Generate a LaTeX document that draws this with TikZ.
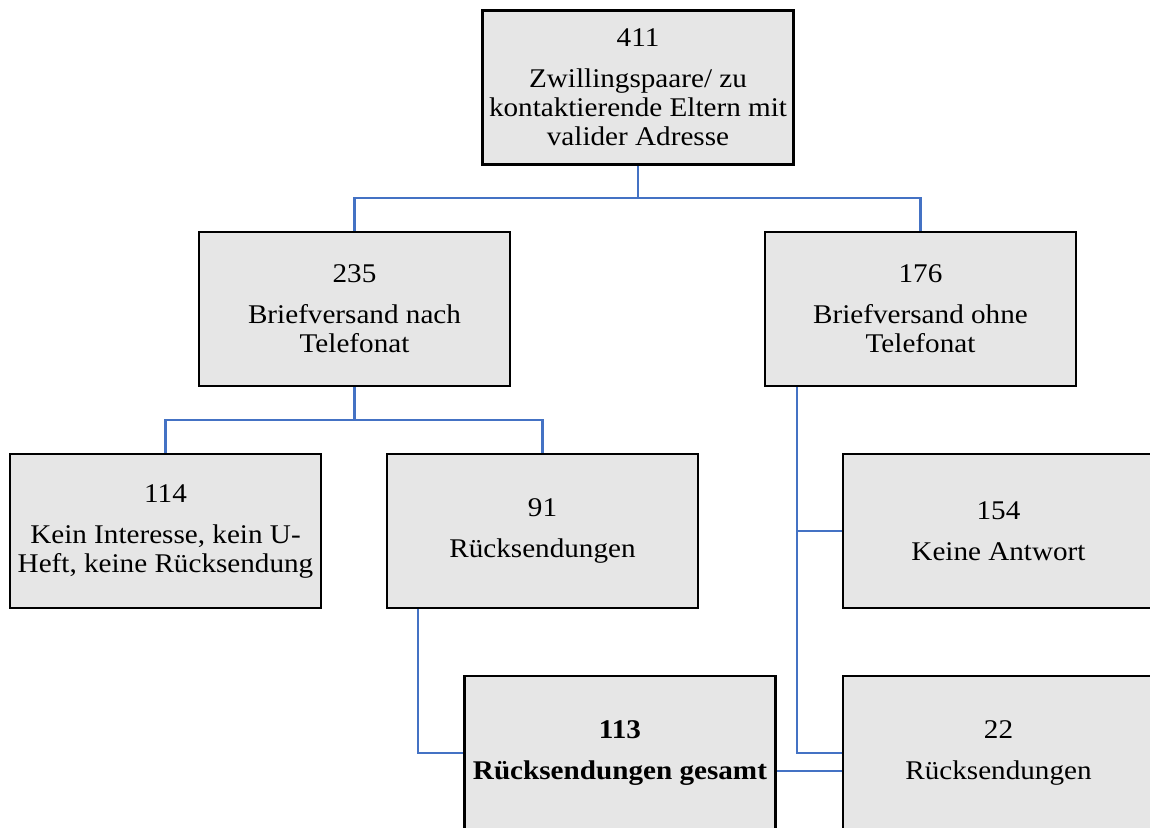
\documentclass[tikz,border=0pt]{standalone}
\usepackage{fontspec}
\setmainfont{Liberation Serif}[FakeStretch=1.08]
\definecolor{boxfill}{RGB}{230,230,230}
\definecolor{conncol}{RGB}{68,114,196}
\tikzset{
  box/.style={draw=black, line width=2.6pt, fill=boxfill, inner sep=0pt,
    minimum width=311pt, minimum height=154pt, align=center,
    font=\fontsize{27}{29}\selectfont},
  conn/.style={draw=conncol, line width=2.4pt}
}
\begin{document}
\begin{tikzpicture}[x=1pt,y=-1pt]
\useasboundingbox (0,0) rectangle (1150,827);
\clip (0,0) rectangle (1150,827);
\fill[white] (0,0) rectangle (1150,827);
% connectors
\coordinate (busA) at (0,198);
\coordinate (busB) at (0,420);
\coordinate (cv) at (797,0);
\coordinate (ev) at (418,0);
\coordinate (gh) at (0,771);
\node[box] (A) at (638,87.5) {411\\[12pt]Zwillingspaare/ zu\\kontaktierende Eltern mit\\valider Adresse};
\node[box] (B) at (354.5,309) {235\\[12pt]Briefversand nach\\Telefonat};
\node[box] (C) at (920.5,309) {176\\[12pt]Briefversand ohne\\Telefonat};
\node[box] (D) at (165.5,531) {114\\[12pt]Kein Interesse, kein U-\\Heft, keine Rücksendung};
\node[box] (E) at (542.5,531) {91\\[12pt]Rücksendungen};
\node[box] (F) at (998.5,531) {154\\[12pt]Keine Antwort};
\node[box] (G) at (620,753) {\bfseries 113\\[12pt]\bfseries Rücksendungen gesamt};
\node[box] (H) at (998.5,753) {22\\[12pt]Rücksendungen};
\draw[conn] (A.south) -- (A.south|-busA) -| (B.north);
\draw[conn] (A.south|-busA) -| (C.north);
\draw[conn] (B.south) -- (B.south|-busB) -| (D.north);
\draw[conn] (B.south|-busB) -| (E.north);
\draw[conn] (C.south-|cv) -- (cv|-H.west) -- (H.west);
\draw[conn] (cv|-F.west) -- (F.west);
\draw[conn] (E.south-|ev) |- (G.west);
\draw[conn] (G.east|-gh) -- (H.west|-gh);
\end{tikzpicture}
\end{document}
